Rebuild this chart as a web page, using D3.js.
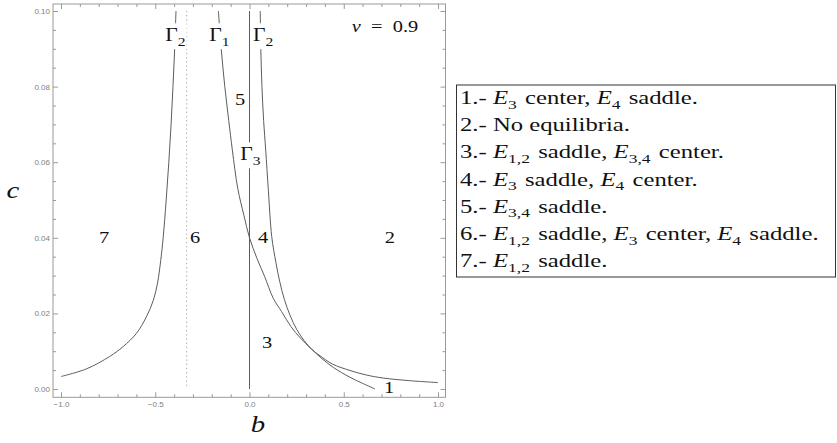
<!DOCTYPE html>
<html>
<head>
<meta charset="utf-8">
<script src="https://cdn.jsdelivr.net/npm/d3@7/dist/d3.min.js"></script>
<style>
  html, body { margin: 0; padding: 0; background: #fff; }
  svg { display: block; }
</style>
</head>
<body>
<script>
// Bifurcation diagram in the (b, c) plane for ν = 0.9

// Γ2, left branch
const gamma2LeftB = [-1.0, -0.866, -0.742, -0.671, -0.600, -0.547, -0.510, -0.488, -0.471, -0.458, -0.442, -0.428, -0.416, -0.406, -0.397, -0.390];
const gamma2LeftC = [0.0033, 0.0053, 0.0086, 0.0112, 0.0147, 0.0191, 0.0235, 0.0280, 0.0340, 0.0400, 0.0500, 0.0600, 0.0700, 0.0800, 0.0900, 0.1000];

// Γ2, right branch
const gamma2RightB = [0.057, 0.060, 0.066, 0.075, 0.086, 0.100, 0.118, 0.140, 0.160, 0.185, 0.215, 0.250, 0.290, 0.330, 0.374, 0.440, 0.533, 0.620, 0.710, 0.850, 1.000];
const gamma2RightC = [0.1000, 0.0900, 0.0800, 0.0710, 0.0632, 0.0526, 0.0403, 0.0335, 0.0285, 0.0237, 0.0195, 0.0158, 0.0128, 0.0105, 0.0088, 0.0066, 0.0049, 0.0037, 0.0029, 0.0022, 0.0017];

// Γ1
const gamma1B = [-0.165, -0.150, -0.131, -0.110, -0.091, -0.062, -0.030, 0.000, 0.040, 0.080, 0.126, 0.170, 0.220, 0.270, 0.330, 0.390, 0.445, 0.533, 0.600, 0.666];
const gamma1C = [0.1000, 0.0900, 0.0800, 0.0710, 0.0632, 0.0530, 0.0460, 0.0400, 0.0345, 0.0298, 0.0240, 0.0205, 0.0165, 0.0135, 0.0105, 0.0078, 0.0057, 0.0031, 0.0015, 0.0000];

// Γ3 : the line b = 0
const gamma3B = [0, 0];
const gamma3C = [0, 0.1];

// dotted reference line b = -1/3
const dottedB = [-1 / 3, -1 / 3];
const dottedC = [0.0008, 0.1];

// region numbers
const regionIds = ["1", "2", "3", "4", "5", "6", "7"];
const regionB = [0.740, 0.744, 0.093, 0.072, -0.050, -0.289, -0.772];
const regionC = [0.0005, 0.0400, 0.0122, 0.0400, 0.0765, 0.0400, 0.0400];

// curve labels
const curveLabelName = ["Γ", "Γ", "Γ", "Γ"];
const curveLabelSub = ["2", "1", "2", "3"];
const curveLabelB = [-0.393, -0.160, 0.072, 0.005];
const curveLabelC = [0.0935, 0.0935, 0.0935, 0.0620];

// axis ticks
const xMajorTicks = [-1.0, -0.5, 0.0, 0.5, 1.0];
const xMinorTicks = [-0.9, -0.8, -0.7, -0.6, -0.4, -0.3, -0.2, -0.1, 0.1, 0.2, 0.3, 0.4, 0.6, 0.7, 0.8, 0.9];
const yMajorTicks = [0.00, 0.02, 0.04, 0.06, 0.08, 0.10];
const yMinorTicks = [0.005, 0.010, 0.015, 0.025, 0.030, 0.035, 0.045, 0.050, 0.055, 0.065, 0.070, 0.075, 0.085, 0.090, 0.095];

// legend rows (E_{k} marks an italic E with subscript k)
const legendRows = [
  "1.- E_{3} center, E_{4} saddle.",
  "2.- No equilibria.",
  "3.- E_{1,2} saddle, E_{3,4} center.",
  "4.- E_{3} saddle, E_{4} center.",
  "5.- E_{3,4} saddle.",
  "6.- E_{1,2} saddle, E_{3} center, E_{4} saddle.",
  "7.- E_{1,2} saddle."
];

// ---------------------------------------------------------------
const W = 837, H = 443;
const frame = { left: 53, right: 445.5, top: 4, bottom: 397.3 };
const serifFamily = '"Liberation Serif", "Times New Roman", serif';
const sansFamily = '"Liberation Sans", Arial, sans-serif';
const curveColor = "#5c5c5c";
const frameColor = "#9a9a9a";

const x = d3.scaleLinear().domain([-1, 1]).range([61, 438]);
const y = d3.scaleLinear().domain([0, 0.1]).range([389, 11]);

const svg = d3.select("body").append("svg")
  .attr("width", W).attr("height", H)
  .attr("viewBox", `0 0 ${W} ${H}`);

const zip = (bs, cs) => bs.map((b, i) => [b, cs[i]]);
const line = d3.line().x(d => x(d[0])).y(d => y(d[1])).curve(d3.curveCatmullRom.alpha(0.5));
const straight = d3.line().x(d => x(d[0])).y(d => y(d[1]));

// dotted asymptote
svg.append("path")
  .attr("d", straight(zip(dottedB, dottedC)))
  .attr("fill", "none").attr("stroke", "#a8a8a8")
  .attr("stroke-width", 1).attr("stroke-dasharray", "1.3,2.9");

// curves
const curves = svg.append("g").attr("fill", "none")
  .attr("stroke", curveColor).attr("stroke-width", 1);
curves.append("path").attr("d", line(zip(gamma2LeftB, gamma2LeftC)));
curves.append("path").attr("d", line(zip(gamma2RightB, gamma2RightC)));
curves.append("path").attr("d", line(zip(gamma1B, gamma1C)));
curves.append("path").attr("d", straight(zip(gamma3B, gamma3C)));

// helper: horizontally widened serif text anchored at (px, py)
function serifText(parent, px, py, size, anchor, widen) {
  return parent.append("text")
    .attr("transform", `translate(${px},${py}) scale(${widen || 1.2},1)`)
    .style("font-family", serifFamily)
    .style("font-size", size + "px")
    .attr("fill", "#111")
    .attr("text-anchor", anchor || "start");
}

// curve labels on white backgrounds
const labelLayer = svg.append("g");
curveLabelName.forEach((name, i) => {
  const g = labelLayer.append("g");
  const bg = g.append("rect").attr("fill", "#fff");
  const cx = x(curveLabelB[i]), cy = y(curveLabelC[i]) + 5;
  const widen = 1.2;
  const t = serifText(g, cx, cy, 18, "middle", widen);
  t.append("tspan").text(name);
  t.append("tspan").style("font-size", "13px").attr("dy", 5).text(curveLabelSub[i]);
  const bb = t.node().getBBox();
  bg.attr("x", cx + bb.x * widen - 1)
    .attr("y", cy + bb.y - 1)
    .attr("width", bb.width * widen + 2)
    .attr("height", bb.height + 2);
});

// region numbers
regionIds.forEach((id, i) => {
  serifText(svg, x(regionB[i]), y(regionC[i]) + 5.5, 17, "middle").text(id);
});

// parameter value
{
  const t = serifText(svg, 385, 32, 17, "middle").attr("xml:space", "preserve");
  t.append("tspan").style("font-style", "italic").text("ν");
  t.append("tspan").text("\u2002=\u20020.9");
}

// frame
svg.append("rect")
  .attr("x", frame.left).attr("y", frame.top)
  .attr("width", frame.right - frame.left)
  .attr("height", frame.bottom - frame.top)
  .attr("fill", "none").attr("stroke", frameColor).attr("stroke-width", 1);

// axes
function styleAxis(g) {
  g.select(".domain").remove();
  g.selectAll(".tick line").attr("stroke", frameColor);
  g.selectAll(".tick text").attr("fill", "#808080")
    .style("font-family", sansFamily).style("font-size", "8px");
}
const fmtX = d3.format(".1f"), fmtY = d3.format(".2f");

svg.append("g").attr("transform", `translate(0,${frame.bottom})`)
  .call(d3.axisBottom(x).tickValues(xMajorTicks).tickFormat(fmtX)
    .tickSizeInner(-5).tickSizeOuter(0).tickPadding(4)).call(styleAxis);
svg.append("g").attr("transform", `translate(0,${frame.bottom})`)
  .call(d3.axisBottom(x).tickValues(xMinorTicks).tickFormat("")
    .tickSizeInner(-3).tickSizeOuter(0)).call(styleAxis);
svg.append("g").attr("transform", `translate(0,${frame.top})`)
  .call(d3.axisTop(x).tickValues(xMajorTicks).tickFormat("")
    .tickSizeInner(-5).tickSizeOuter(0)).call(styleAxis);
svg.append("g").attr("transform", `translate(0,${frame.top})`)
  .call(d3.axisTop(x).tickValues(xMinorTicks).tickFormat("")
    .tickSizeInner(-3).tickSizeOuter(0)).call(styleAxis);

svg.append("g").attr("transform", `translate(${frame.left},0)`)
  .call(d3.axisLeft(y).tickValues(yMajorTicks).tickFormat(fmtY)
    .tickSizeInner(-5).tickSizeOuter(0).tickPadding(3)).call(styleAxis);
svg.append("g").attr("transform", `translate(${frame.left},0)`)
  .call(d3.axisLeft(y).tickValues(yMinorTicks).tickFormat("")
    .tickSizeInner(-3).tickSizeOuter(0)).call(styleAxis);
svg.append("g").attr("transform", `translate(${frame.right},0)`)
  .call(d3.axisRight(y).tickValues(yMajorTicks).tickFormat("")
    .tickSizeInner(-5).tickSizeOuter(0)).call(styleAxis);
svg.append("g").attr("transform", `translate(${frame.right},0)`)
  .call(d3.axisRight(y).tickValues(yMinorTicks).tickFormat("")
    .tickSizeInner(-3).tickSizeOuter(0)).call(styleAxis);

// axis titles
serifText(svg, 258, 432, 24, "middle").style("font-style", "italic").text("b");
serifText(svg, 13, 198, 24, "middle").style("font-style", "italic").text("c");

// legend
const legend = svg.append("g");
legend.append("rect")
  .attr("x", 456.5).attr("y", 85).attr("width", 379).attr("height", 192)
  .attr("fill", "#fff").attr("stroke", "#333").attr("stroke-width", 1);

const rowStep = 27.2;
legendRows.forEach((row, i) => {
  const t = serifText(legend, 460, 104 + i * rowStep, 19, "start", 1.3)
    .attr("xml:space", "preserve");
  row.split(/(E_\{[^}]*\})/).forEach(p => {
    const m = p.match(/^E_\{([^}]*)\}$/);
    if (m) {
      t.append("tspan").style("font-style", "italic").text("E");
      t.append("tspan").style("font-size", "13.5px").attr("dy", 4.5).text(m[1]);
      t.append("tspan").attr("dy", -4.5).text("\u200a");
    } else if (p.length) {
      t.append("tspan").text(p);
    }
  });
});
</script>
</body>
</html>
